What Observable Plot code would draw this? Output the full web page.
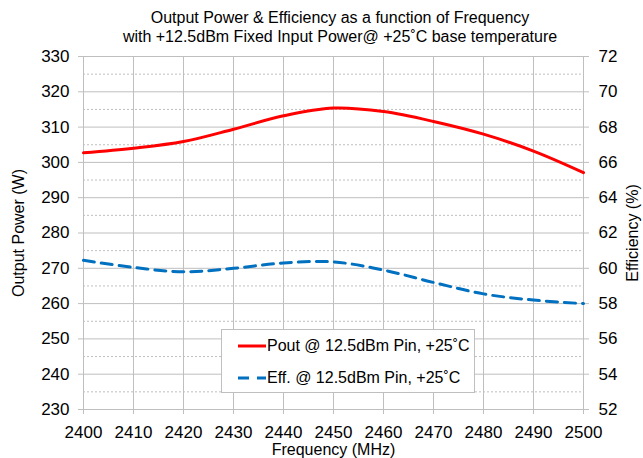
<!DOCTYPE html>
<html>
<head>
<meta charset="utf-8">
<script src="https://cdn.jsdelivr.net/npm/d3@7"></script>
<script src="https://cdn.jsdelivr.net/npm/@observablehq/plot@0.6"></script>
<style>
  html, body { margin: 0; padding: 0; background: #fff; }
  body { width: 643px; height: 458px; position: relative; overflow: hidden; font-family: "Liberation Sans", Arial, sans-serif; color: #000; }
  #title { position: absolute; left: 37px; top: 8px; width: 606px; text-align: center; font-size: 16px; line-height: 19px; }
  #chart { position: absolute; left: 0; top: 46px; }
  #legend { position: absolute; left: 221px; top: 329px; width: 252px; height: 62px; border: 1px solid #bfbfbf; background: #fff; font-size: 16px; }
  .item { position: absolute; left: 16px; height: 20px; display: flex; align-items: center; white-space: nowrap; }
  .item svg { margin-right: 1px; }
</style>
</head>
<body>
<div id="title">Output Power &amp; Efficiency as a function of Frequency<br>with +12.5dBm Fixed Input Power@ +25˚C base temperature</div>
<div id="chart"></div>
<div id="legend">
  <div class="item" style="top:6px"><svg width="28" height="6"><line x1="0" y1="3" x2="28" y2="3" stroke="#ff0000" stroke-width="3"/></svg>Pout @ 12.5dBm Pin, +25˚C</div>
  <div class="item" style="top:38px"><svg width="28" height="6"><line x1="0" y1="3" x2="28" y2="3" stroke="#0070c0" stroke-width="3" stroke-dasharray="11,8"/></svg>Eff. @ 12.5dBm Pin, +25˚C</div>
</div>
<script>
const frequency = [2400, 2410, 2420, 2430, 2440, 2450, 2460, 2470, 2480, 2490, 2500];
const poutW = [302.7, 304.0, 305.9, 309.4, 313.2, 315.4, 314.4, 311.6, 308.0, 303.2, 297.1];
const efficiencyPct = [60.45, 60.05, 59.8, 60.0, 60.3, 60.36, 59.9, 59.2, 58.55, 58.2, 58.0];
const powerTicks = [230, 240, 250, 260, 270, 280, 290, 300, 310, 320, 330];
const effTicks = [52, 54, 56, 58, 60, 62, 64, 66, 68, 70, 72];
const minorPowerTicks = [235, 245, 255, 265, 275, 285, 295, 305, 315, 325];

// map efficiency (52–72 %) onto the power scale (230–330 W)
const effToPower = e => 230 + (e - 52) * 5;
const powerToEff = p => (p - 230) / 5 + 52;

const pout = frequency.map((f, i) => ({f, v: poutW[i]}));
const eff = frequency.map((f, i) => ({f, v: effToPower(efficiencyPct[i])}));

const grid = "#bfbfbf";
const chart = Plot.plot({
  width: 643,
  height: 412,
  marginLeft: 83,
  marginRight: 60,
  marginTop: 10,
  marginBottom: 49,
  style: {fontFamily: "'Liberation Sans', Arial, sans-serif", fontSize: "17px", color: "#000", background: "#fff"},
  x: {domain: [2400, 2500]},
  y: {domain: [230, 330]},
  marks: [
    Plot.gridY(minorPowerTicks, {stroke: grid, strokeOpacity: 1, strokeDasharray: "2,2"}),
    Plot.gridY(powerTicks, {stroke: grid, strokeOpacity: 1}),
    Plot.gridX(frequency, {stroke: grid, strokeOpacity: 1}),
    Plot.ruleY([230], {stroke: grid}),
    Plot.ruleX([2400], {stroke: grid}),
    Plot.axisY(powerTicks, {anchor: "left", tickSize: 5, tickPadding: 9, stroke: grid, fill: "#000", label: null, fontSize: 17}),
    Plot.axisY(effTicks.map(effToPower), {anchor: "right", tickSize: 5, tickPadding: 10, stroke: grid, fill: "#000", label: null, fontSize: 17, tickFormat: d => String(Math.round(powerToEff(d)))}),
    Plot.axisX(frequency, {anchor: "bottom", tickSize: 5, tickPadding: 11, stroke: grid, fill: "#000", label: null, fontSize: 17, tickFormat: d => String(d)}),
    Plot.line(eff, {x: "f", y: "v", stroke: "#0070c0", strokeWidth: 3, strokeDasharray: "11,7", curve: "catmull-rom"}),
    Plot.line(pout, {x: "f", y: "v", stroke: "#ff0000", strokeWidth: 3, curve: "catmull-rom"}),
    Plot.text(["Output Power (W)"], {frameAnchor: "left", dx: -65, rotate: -90, textAnchor: "middle", lineAnchor: "middle", fontSize: 16, fill: "#000"}),
    Plot.text(["Efficiency (%)"], {frameAnchor: "right", dx: 49, rotate: -90, textAnchor: "middle", lineAnchor: "middle", fontSize: 16, fill: "#000"}),
    Plot.text(["Frequency (MHz)"], {frameAnchor: "bottom", dy: 40, textAnchor: "middle", lineAnchor: "middle", fontSize: 16, fill: "#000"})
  ]
});
document.getElementById("chart").appendChild(chart);
</script>
</body>
</html>
